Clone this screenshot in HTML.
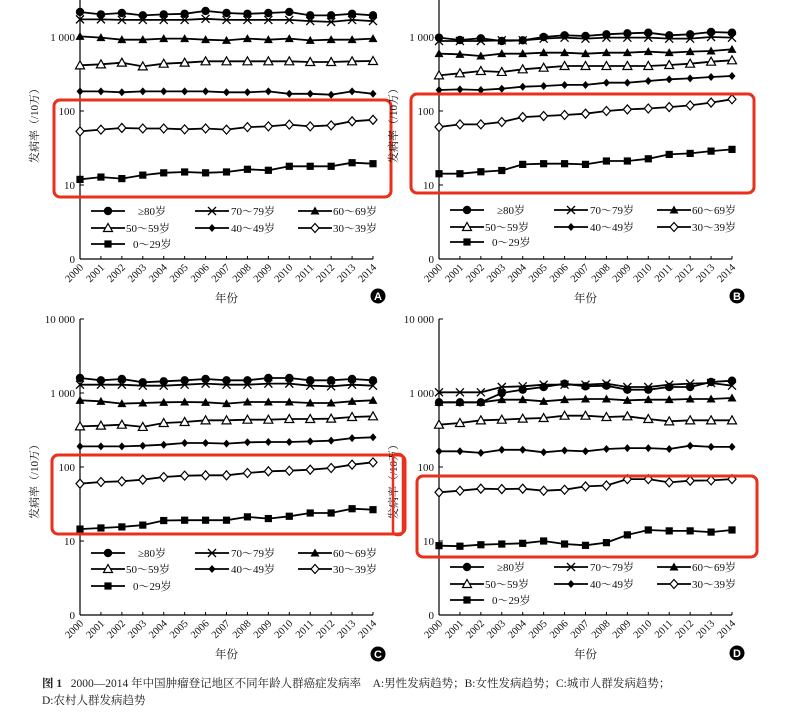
<!DOCTYPE html>
<html><head><meta charset="utf-8"><style>
html,body{margin:0;padding:0;background:#fff;}
svg{display:block;font-family:"Liberation Serif","Noto Serif CJK SC",serif;}
.cap{position:absolute;left:42px;font-family:"Liberation Serif","Noto Serif CJK SC",serif;font-size:11.5px;color:#222;}
</style></head><body>
<div style="position:relative;width:792px;height:712px;overflow:hidden">
<svg id="chart" width="792" height="712" viewBox="0 0 792 712"></svg>
<div class="cap" style="top:675px"><b>图 1</b>&nbsp;&nbsp; 2000—2014 年中国肿瘤登记地区不同年龄人群癌症发病率&nbsp;&nbsp;&nbsp; A:男性发病趋势；B:女性发病趋势；C:城市人群发病趋势；</div>
<div class="cap" style="top:692px">D:农村人群发病趋势</div>
</div>
<script>
const years = [2000,2001,2002,2003,2004,2005,2006,2007,2008,2009,2010,2011,2012,2013,2014];
const seriesLabels = ["≥80岁","70～79岁","60～69岁","50～59岁","40～49岁","30～39岁","0～29岁"];
const yTickValues = [10000,1000,100,10,1];
const yTickLabels = ["10 000","1 000","100","10","0"];
// Panel A (male)
const a80 = [2180,2020,2110,1960,2020,2060,2250,2110,2060,2110,2180,1960,1960,2060,1960];
const a70 = [1730,1730,1700,1700,1700,1700,1760,1700,1700,1700,1700,1640,1600,1700,1640];
const a60 = [1020,980,920,920,950,950,920,900,950,920,950,900,920,920,950];
const a50 = [414,427,450,401,436,450,469,469,469,469,469,459,459,469,474];
const a40 = [184,184,179,184,184,184,184,179,179,184,171,171,166,184,171];
const a30 = [53,56,59,58,58,56.5,58,56,60.6,62,65.5,62,64,72.5,76];
const a0 = [11.9,12.8,12.2,13.6,14.6,15,14.6,15,16.3,15.8,17.9,17.9,17.9,20,19.4];
// Panel B (female)
const b80 = [980,911,960,883,902,1000,1053,1032,1086,1121,1144,1053,1086,1168,1144];
const b70 = [883,883,883,902,902,950,980,950,980,980,980,950,950,1000,980];
const b60 = [595,583,553,595,595,614,614,595,614,614,634,614,634,647,681];
const b50 = [303,323,347,337,366,385,406,406,406,406,406,418,436,464,484];
const b40 = [192,196,192,200,213,218,225,225,241,241,254,268,276,288,297];
const b30 = [60.8,66,66,71,82.8,85.5,88.3,92,100,105,108,113,119,130,144];
const b0 = [14.2,14.2,15.1,15.7,19,19.4,19.4,19,21.1,21.1,22.6,25.9,26.7,28.7,30.3];
// Panel C (urban)
const c80 = [1595,1483,1546,1394,1438,1483,1546,1483,1483,1595,1595,1483,1483,1546,1483];
const c70 = [1296,1296,1296,1256,1256,1296,1338,1296,1296,1338,1338,1256,1230,1296,1256];
const c60 = [796,772,718,733,748,756,748,718,756,756,756,733,733,772,796];
const c50 = [354,362,373,348,393,406,427,427,436,436,445,445,450,474,484];
const c40 = [190,190,190,194,200,211,211,207,216,218,218,222,227,246,252];
const c30 = [59.5,62.7,64,67.4,73.3,76.4,77.2,77.2,83,87.4,89,92,96.9,107.5,115.6];
const c0 = [14.5,15,15.5,16.4,18.9,19.1,19.1,19.1,21.2,20.1,21.6,23.9,23.9,27.3,26.5];
// Panel D (rural)
const d80 = [748,748,748,1000,1109,1205,1337,1230,1256,1109,1109,1205,1205,1408,1468];
const d70 = [1021,1021,1021,1205,1230,1296,1296,1296,1338,1205,1205,1296,1338,1365,1256];
const d60 = [748,748,748,813,813,772,813,830,830,796,813,813,830,830,856];
const d50 = [373,393,427,436,450,459,494,494,474,484,445,414,427,427,427];
const d40 = [163,163,155,171,171,158,167,163,175,180,180,175,194,187,187];
const d30 = [45.5,47.8,50.9,50.3,50.9,47.8,49.3,54.6,56.3,68.6,68.6,62,65.3,66,68.6];
const d0 = [8.65,8.5,8.9,9.1,9.3,10,9.1,8.74,9.5,12.1,14.1,13.7,13.7,13.2,14.1];

const NS="http://www.w3.org/2000/svg";
const svg=document.getElementById('chart');
function mk(tag,attrs,parent){const e=document.createElementNS(NS,tag);for(const k in attrs)e.setAttribute(k,attrs[k]);(parent||svg).appendChild(e);return e;}

const markerTypes=["circle","cross","tri","otri","diamond","odiamond","square"];
function marker(g,type,x,y){
  let m;
  if(type==="circle") m=mk('circle',{cx:x,cy:y,r:4.2,fill:'#000'},g);
  else if(type==="cross") m=mk('path',{d:`M${x-4} ${y-4}L${x+4} ${y+4}M${x-4} ${y+4}L${x+4} ${y-4}`,stroke:'#000','stroke-width':1.3,fill:'none'},g);
  else if(type==="tri") m=mk('path',{d:`M${x} ${y-4.5}L${x+4.5} ${y+3.5}L${x-4.5} ${y+3.5}Z`,fill:'#000'},g);
  else if(type==="otri") m=mk('path',{d:`M${x} ${y-4.5}L${x+4.5} ${y+3.5}L${x-4.5} ${y+3.5}Z`,fill:'#fff',stroke:'#000','stroke-width':1.2},g);
  else if(type==="diamond") m=mk('path',{d:`M${x} ${y-4}L${x+3.5} ${y}L${x} ${y+4}L${x-3.5} ${y}Z`,fill:'#000'},g);
  else if(type==="odiamond") m=mk('path',{d:`M${x} ${y-4.5}L${x+4} ${y}L${x} ${y+4.5}L${x-4} ${y}Z`,fill:'#fff',stroke:'#000','stroke-width':1.2},g);
  else m=mk('rect',{x:x-3.6,y:y-3.6,width:7.2,height:7.2,fill:'#000'},g);
  
  
}

const panels=[
 {id:'a',ax:80,ax1:373,y1000:37,top:0,leg:[211,228,244],data:[a80,a70,a60,a50,a40,a30,a0],letter:'A',ly:296,
  box:[54,100,337,97],showTop:false},
 {id:'b',ax:439,ax1:732,y1000:37,top:0,leg:[210,227,242],data:[b80,b70,b60,b50,b40,b30,b0],letter:'B',ly:296,
  box:[411,94,343,99],showTop:false},
 {id:'c',ax:80,ax1:373,y1000:393,top:319,leg:[553,569,586],data:[c80,c70,c60,c50,c40,c30,c0],letter:'C',ly:654,
  box:[52,455,353,79],showTop:true},
 {id:'d',ax:439,ax1:732,y1000:393,top:319,leg:[567,584,600],data:[d80,d70,d60,d50,d40,d30,d0],letter:'D',ly:653,
  box:[417,476,340,81],showTop:true}
];

panels.forEach(p=>{
  const g=mk('g',{});
  
  
  const xS=i=>p.ax+(p.ax1-p.ax)*i/(years.length-1);
  const yS=v=>p.y1000+(3-Math.log10(v))*74;
  const base=yS(1);
  // axes
  const ya=mk('line',{x1:p.ax,y1:p.top,x2:p.ax,y2:base,stroke:'#000','stroke-width':1.2},g);
  
  
  const xa=mk('line',{x1:p.ax,y1:base,x2:p.ax1,y2:base,stroke:'#000','stroke-width':1.2},g);
  
  
  yTickValues.forEach((v,i)=>{
    const y=yS(v);
    if(y<p.top-1) return;
    mk('line',{x1:p.ax,y1:y,x2:p.ax+4,y2:y,stroke:'#000','stroke-width':1},g);
    const t=mk('text',{x:p.ax-5,y:y+4,'text-anchor':'end','font-size':11,fill:'#111'},g);
    t.textContent=yTickLabels[i];
    
    
  });
  years.forEach((yr,i)=>{
    const x=xS(i);
    mk('line',{x1:x,y1:base,x2:x,y2:base-3,stroke:'#000','stroke-width':1},g);
    const t=mk('text',{x:x+4,y:base+9,'text-anchor':'end','font-size':10.5,fill:'#111',transform:`rotate(-45 ${x+4} ${base+9})`},g);
    t.textContent=yr;
    
    
  });
  // axis titles
  const xt=mk('text',{x:(p.ax+p.ax1)/2,y:base+43,'text-anchor':'middle','font-size':11.5,fill:'#111'},g);
  xt.textContent='年份';
  
  
  const ty=p.y1000+86, tx=p.ax-42;
  const yt=mk('text',{x:tx,y:ty,'text-anchor':'middle','font-size':11,fill:'#111',transform:`rotate(-90 ${tx} ${ty})`},g);
  yt.textContent='发病率（/10万）';
  
  
  // series
  p.data.forEach((vals,si)=>{
    const sg=mk('g',{},g);
    
    
    const pts=vals.map((v,i)=>xS(i).toFixed(1)+','+yS(v).toFixed(1)).join(' ');
    const pl=mk('polyline',{points:pts,fill:'none',stroke:'#000','stroke-width':1.8},sg);
    
    
    vals.forEach((v,i)=>marker(sg,markerTypes[si],xS(i),yS(v)));
  });
  // legend
  const cols=[[11,45],[115,149],[218,252]];
  const txo=[58,151,253,46,151,253,53];
  seriesLabels.forEach((lab,si)=>{
    const r=Math.floor(si/3), c=si%3;
    const lg=mk('g',{},g);
    
    
    const y=p.leg[r];
    mk('line',{x1:p.ax+cols[c][0],y1:y,x2:p.ax+cols[c][1],y2:y,stroke:'#000','stroke-width':1.8},lg);
    marker(lg,markerTypes[si],p.ax+(cols[c][0]+cols[c][1])/2,y);
    const t=mk('text',{x:p.ax+txo[si],y:y+4,'font-size':11,fill:'#111'},lg);
    t.textContent=lab;
  });
  // red box
  const b=mk('rect',{x:p.box[0],y:p.box[1],width:p.box[2],height:p.box[3],rx:6,fill:'none',stroke:'#e8301c','stroke-width':3},g);
  
  
  // letter badge
  const bx=p.ax1+5;
  const c=mk('circle',{cx:bx,cy:p.ly,r:7.5,fill:'#000'},g);
  
  
  const lt=mk('text',{x:bx,y:p.ly+4,'text-anchor':'middle','font-size':11,'font-weight':'bold',fill:'#fff','font-family':'Liberation Sans, sans-serif'},g);
  lt.textContent=p.letter;
  
  
});
// small red box on panel D y-title
const sb=mk('rect',{x:393,y:454,width:10,height:81,rx:4,fill:'none',stroke:'#e8301c','stroke-width':2.5});


</script>
</body></html>
